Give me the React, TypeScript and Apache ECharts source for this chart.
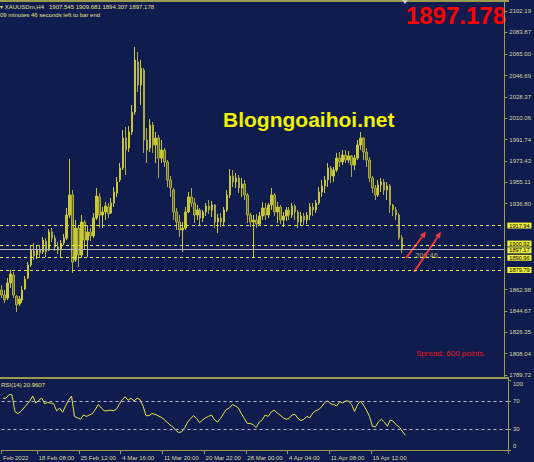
import React, { useEffect, useRef } from "react";
import * as echarts from "echarts";

// ---- Data (XAUUSDm, H4) ----
const opens = [
  1862.6, 1858.3, 1855.7, 1868.6, 1875.5, 1857.4, 1850.6, 1854.0, 1863.5, 1872.9,
  1884.1, 1896.1, 1892.6, 1896.9, 1895.2, 1904.7, 1896.9, 1912.4, 1907.2, 1899.5,
  1896.9, 1903.0, 1907.2, 1927.0, 1944.2, 1888.4, 1915.8, 1892.6, 1921.0, 1905.5,
  1912.4, 1909.0, 1924.4, 1942.5, 1927.0, 1929.6, 1933.9, 1928.7, 1937.3, 1945.9,
  1957.1, 1967.4, 1993.1, 1984.5, 1998.3, 2015.4, 2058.4, 2038.6, 2051.5, 1991.4,
  1984.5, 2004.3, 1987.1, 1993.1, 1975.9, 1982.8, 1972.5, 1957.1, 1948.5, 1929.6,
  1921.0, 1914.1, 1915.8, 1929.6, 1942.5, 1937.3, 1927.0, 1931.3, 1924.4, 1929.6,
  1934.7, 1931.3, 1935.6, 1921.0, 1924.4, 1921.0, 1931.3, 1944.2, 1960.5, 1955.3,
  1958.8, 1950.2, 1953.6, 1944.2, 1927.0, 1921.0, 1922.7, 1919.3, 1926.1, 1933.0,
  1927.0, 1935.6, 1944.2, 1929.6, 1933.9, 1922.7, 1926.1, 1931.3, 1927.0, 1934.7,
  1929.6, 1921.0, 1926.1, 1922.7, 1927.0, 1933.9, 1931.3, 1937.3, 1946.7, 1951.9,
  1957.1, 1967.4, 1960.5, 1965.6, 1975.9, 1972.5, 1978.5, 1974.2, 1977.7, 1969.9,
  1975.9, 1987.1, 1993.1, 1981.1, 1974.2, 1958.8, 1950.2, 1944.2, 1952.8, 1955.3,
  1948.5, 1951.9, 1935.6, 1931.3, 1927.0, 1907.545,
];
const closes = [
  1858.3, 1854.0, 1868.6, 1876.3, 1858.3, 1849.7, 1854.9, 1862.6, 1872.0, 1884.1,
  1896.9, 1891.8, 1896.9, 1894.4, 1905.5, 1895.2, 1912.4, 1907.2, 1899.5, 1896.9,
  1903.0, 1907.2, 1927.0, 1944.2, 1886.6, 1915.8, 1892.6, 1921.0, 1905.5, 1912.4,
  1909.0, 1924.4, 1943.3, 1927.0, 1929.6, 1934.7, 1927.9, 1937.3, 1946.7, 1955.3,
  1967.4, 1993.1, 1982.8, 1998.3, 2015.4, 2060.1, 2038.6, 2053.2, 1991.4, 1982.8,
  2004.3, 1987.1, 1993.1, 1975.9, 1982.8, 1972.5, 1957.1, 1950.2, 1929.6, 1921.0,
  1914.1, 1915.8, 1929.6, 1942.5, 1937.3, 1927.0, 1931.3, 1924.4, 1929.6, 1934.7,
  1931.3, 1935.6, 1921.0, 1924.4, 1921.0, 1931.3, 1944.2, 1960.5, 1955.3, 1958.8,
  1950.2, 1953.6, 1944.2, 1927.0, 1921.0, 1922.7, 1919.3, 1926.1, 1933.0, 1927.0,
  1935.6, 1944.2, 1929.6, 1933.9, 1922.7, 1926.1, 1931.3, 1927.0, 1934.7, 1929.6,
  1921.0, 1926.1, 1922.7, 1927.0, 1933.9, 1931.3, 1937.3, 1946.7, 1951.9, 1957.1,
  1967.4, 1960.5, 1965.6, 1975.9, 1972.5, 1978.5, 1974.2, 1977.7, 1969.9, 1975.9,
  1987.1, 1993.1, 1981.1, 1974.2, 1958.8, 1950.2, 1944.2, 1952.8, 1955.3, 1948.5,
  1951.9, 1935.6, 1931.3, 1927.0, 1907.5, 1897.178,
];
const lows = [
  1855.7, 1851.4, 1854.0, 1864.3, 1855.7, 1843.7, 1848.9, 1851.4, 1862.6, 1872.0,
  1882.3, 1888.4, 1889.2, 1890.1, 1893.5, 1890.9, 1896.1, 1903.8, 1896.1, 1893.5,
  1890.1, 1901.2, 1905.5, 1924.4, 1877.2, 1886.6, 1882.3, 1890.1, 1896.9, 1890.9,
  1904.7, 1907.2, 1922.7, 1915.8, 1915.8, 1922.7, 1924.4, 1927.9, 1933.9, 1942.5,
  1955.3, 1965.6, 1961.3, 1981.1, 1995.7, 2012.9, 2032.6, 2021.5, 1980.2, 1971.7,
  1981.1, 1980.2, 1971.7, 1958.8, 1971.7, 1968.2, 1951.0, 1942.5, 1922.7, 1914.1,
  1908.1, 1895.2, 1914.1, 1928.7, 1933.9, 1920.1, 1922.7, 1918.4, 1921.0, 1926.1,
  1927.9, 1925.3, 1915.8, 1911.5, 1916.7, 1918.4, 1929.6, 1941.6, 1951.0, 1950.2,
  1945.9, 1942.5, 1939.9, 1920.1, 1916.7, 1890.1, 1915.8, 1917.5, 1922.7, 1922.7,
  1924.4, 1931.3, 1926.1, 1920.1, 1919.3, 1916.7, 1921.8, 1922.7, 1924.4, 1922.7,
  1915.8, 1917.5, 1918.4, 1919.3, 1922.7, 1926.1, 1928.7, 1935.6, 1942.5, 1945.9,
  1951.0, 1954.5, 1955.3, 1963.9, 1968.2, 1969.9, 1971.7, 1971.7, 1959.6, 1965.6,
  1974.2, 1982.8, 1974.2, 1968.2, 1955.3, 1945.9, 1939.9, 1942.5, 1946.7, 1944.2,
  1939.9, 1928.7, 1926.1, 1922.7, 1905.5, 1894.307,
];
const highs = [
  1866.9, 1862.6, 1872.9, 1879.8, 1878.1, 1858.3, 1857.4, 1866.0, 1874.6, 1886.6,
  1900.4, 1903.0, 1900.4, 1901.2, 1908.1, 1907.2, 1915.0, 1915.8, 1909.8, 1903.8,
  1905.5, 1910.7, 1933.0, 1975.1, 1948.5, 1922.7, 1917.5, 1927.0, 1922.7, 1918.4,
  1915.8, 1928.7, 1950.2, 1945.9, 1933.9, 1938.2, 1937.3, 1941.6, 1951.0, 1959.6,
  1971.7, 2000.0, 2002.6, 2003.4, 2021.5, 2071.3, 2067.0, 2060.1, 2053.2, 2001.7,
  2009.4, 2006.9, 1998.3, 1995.7, 1991.4, 1984.5, 1974.2, 1960.5, 1950.2, 1933.0,
  1927.0, 1921.0, 1933.9, 1946.7, 1950.2, 1941.6, 1935.6, 1933.0, 1931.3, 1937.3,
  1939.9, 1939.0, 1936.4, 1927.9, 1928.7, 1933.9, 1948.5, 1966.5, 1965.6, 1963.1,
  1961.3, 1958.8, 1957.1, 1945.9, 1928.7, 1927.0, 1927.9, 1929.6, 1938.2, 1937.3,
  1937.3, 1950.2, 1945.9, 1938.2, 1935.6, 1929.6, 1933.9, 1933.9, 1937.3, 1936.4,
  1931.3, 1929.6, 1928.7, 1929.6, 1937.3, 1937.3, 1939.9, 1951.0, 1957.1, 1960.5,
  1971.7, 1969.1, 1968.2, 1980.2, 1981.1, 1982.8, 1982.8, 1982.0, 1978.5, 1978.5,
  1991.4, 1998.3, 1994.0, 1984.5, 1976.8, 1960.5, 1952.8, 1957.1, 1958.8, 1957.9,
  1955.3, 1953.6, 1936.4, 1933.9, 1928.7, 1909.681,
];
const rsi14 = [
  74, 74, 79, 79, 55, 52, 55, 60, 65, 70,
  77, 67, 71, 74, 66, 68, 67, 66, 56, 60,
  54, 63, 71, 77, 48, 46, 44, 50, 48, 50,
  52, 58, 65, 60, 56, 56, 57, 56, 58, 65,
  72, 76, 71, 74, 70, 74, 72, 63, 49, 49,
  52, 51, 49, 47, 44, 40, 36, 33, 28, 25,
  26, 32, 40, 45, 49, 45, 39, 43, 46, 48,
  50, 43, 40, 45, 52, 58, 60, 65, 63, 60,
  52, 45, 38, 38, 36, 32, 40, 43, 50, 48,
  54, 57, 53, 50, 46, 44, 45, 50, 51, 45,
  42, 44, 48, 46, 53, 56, 58, 62, 68, 70,
  66, 65, 63, 69, 67, 70, 70, 65, 55, 65,
  70, 64, 57, 48, 34, 33, 40, 44, 40, 34,
  43, 41, 36, 33, 27, 20.9607,
];
// bar slots on the time axis (includes the empty chart shift on the right)
const SLOT_COUNT = 170;
const timeLabels: Record<number, string> = {
  0: "Feb 2022",
  12: "18 Feb 08:00",
  26: "25 Feb 12:00",
  40: "4 Mar 16:00",
  54: "11 Mar 20:00",
  68: "20 Mar 22:00",
  82: "28 Mar 00:00",
  96: "4 Apr 04:00",
  110: "11 Apr 08:00",
  124: "19 Apr 12:00",
};
const priceTicks = [
  2102.19, 2083.87, 2065.0, 2046.69, 2028.37, 2010.06, 1991.74, 1973.43, 1955.11,
  1936.8, 1862.98, 1844.67, 1826.35, 1808.04, 1789.72,
];
const rsiTicks = [100, 70, 30, 0];
const rsiLevels = [70, 30];
const levelPrices = [1917.94, 1900.92, 1890.96, 1879.79];
const levelLabelShift = [0, -1.8, 0.8, 0];
const bidPrice = 1897.178;
const bidLabel = "1897.17";
const rsiLabel = "RSI(14) 20.9607";
const headerLine1 = "\u25BE XAUUSDm,H4   1907.545 1909.681 1894.307 1897.178";
const headerLine2 = "09 minutes 46 seconds left to bar end";

const BG = "#101c4e";
const OLIVE = "#9c9c4e";
const LABEL = "#d6d6a6";
const FONT = "Liberation Sans, Arial, sans-serif";

export default function App() {
  const ref = useRef<HTMLDivElement>(null);
  useEffect(() => {
    document.body.style.margin = "0";
    const chart = echarts.init(ref.current!, null, { renderer: "svg" });
    const cats = Array.from({ length: SLOT_COUNT }, (_, i) => String(i));
    const candles = opens.map((o, i) => [o, closes[i], lows[i], highs[i]]);
    const showIdx = (i: number) => timeLabels[i] !== undefined;
    const yellowBox = {
      show: true,
      position: "end",
      distance: 3,
      formatter: (p: any) => p.name,
      backgroundColor: "#eeee3a",
      color: "#000",
      fontSize: 5.6,
      lineHeight: 6,
      fontFamily: FONT,
      padding: [0, 2, 0, 2],
    };
    chart.setOption({
      animation: false,
      backgroundColor: BG,
      grid: [
        { left: 0, right: 26, top: 2, height: 375 },
        { left: 0, right: 26, top: 379, height: 72 },
      ],
      xAxis: [
        {
          gridIndex: 0,
          type: "category",
          data: cats,
          boundaryGap: true,
          axisLine: { show: false },
          axisTick: { show: false },
          axisLabel: { show: false },
          splitLine: { show: false },
        },
        {
          gridIndex: 1,
          type: "category",
          data: cats,
          boundaryGap: true,
          axisLine: { show: true, lineStyle: { color: OLIVE, width: 1 } },
          axisTick: {
            show: true,
            interval: (i: number) => showIdx(i),
            length: 4,
            lineStyle: { color: OLIVE },
          },
          axisLabel: {
            interval: (i: number) => showIdx(i),
            formatter: (_v: string, i: number) => timeLabels[i] ?? "",
            align: "left",
            color: LABEL,
            fontSize: 6,
            fontFamily: FONT,
            margin: 4,
          },
          splitLine: { show: false },
        },
      ],
      yAxis: [
        {
          gridIndex: 0,
          type: "value",
          position: "right",
          min: 1787.9,
          max: 2109.9,
          splitLine: { show: false },
          axisLine: { show: true, lineStyle: { color: OLIVE, width: 1 } },
          axisTick: {
            show: true,
            customValues: priceTicks,
            length: 3,
            lineStyle: { color: OLIVE },
          },
          axisLabel: {
            customValues: priceTicks,
            formatter: (v: number) => v.toFixed(2),
            color: LABEL,
            fontSize: 6,
            fontFamily: FONT,
            margin: 5,
          },
        },
        {
          gridIndex: 1,
          type: "value",
          position: "right",
          min: -1.4,
          max: 101.4,
          splitLine: { show: false },
          axisLine: { show: true, lineStyle: { color: OLIVE, width: 1 } },
          axisTick: {
            show: true,
            customValues: rsiTicks,
            length: 3,
            lineStyle: { color: OLIVE },
          },
          axisLabel: {
            customValues: rsiTicks,
            formatter: (v: number) =>
              v === 100 ? "{t|100}" : v === 0 ? "{b|0}" : String(v),
            color: LABEL,
            fontSize: 6,
            fontFamily: FONT,
            margin: 5,
            rich: {
              t: { color: LABEL, fontSize: 6, fontFamily: FONT, padding: [8, 0, 0, 0] },
              b: { color: LABEL, fontSize: 6, fontFamily: FONT, padding: [0, 0, 8, 0] },
            },
          },
        },
      ],
      series: [
        {
          type: "candlestick",
          xAxisIndex: 0,
          yAxisIndex: 0,
          data: candles,
          barWidth: 2,
          itemStyle: {
            color: "#c8c836",
            color0: "#66662a",
            borderColor: "#c8c836",
            borderColor0: "#acac3c",
            borderWidth: 1,
          },
          markLine: {
            silent: true,
            symbol: ["none", "none"],
            animation: false,
            lineStyle: { color: "#e8e84a", type: [3, 3], width: 1 },
            label: yellowBox,
            data: [
              ...levelPrices.map((p, k) => ({
                yAxis: p,
                name: p.toFixed(2),
                label: { ...yellowBox, offset: [0, levelLabelShift[k]] },
              })),
              {
                yAxis: bidPrice,
                name: bidLabel,
                lineStyle: { color: "#b4b4c4", type: "solid", width: 1 },
                label: { ...yellowBox, offset: [0, 0.6] },
              },
            ],
          },
        },
        {
          type: "line",
          xAxisIndex: 1,
          yAxisIndex: 1,
          data: rsi14,
          showSymbol: false,
          lineStyle: { color: "#e4e44a", width: 1 },
          markLine: {
            silent: true,
            symbol: ["none", "none"],
            animation: false,
            label: { show: false },
            lineStyle: { color: "#b8b8cc", type: [3, 3], width: 1 },
            data: rsiLevels.map((v) => ({ yAxis: v })),
          },
        },
      ],
      graphic: [
        { type: "line", shape: { x1: 0, y1: 1, x2: 509, y2: 1 }, style: { stroke: OLIVE, lineWidth: 2 } },
        { type: "line", shape: { x1: 0, y1: 378, x2: 509, y2: 378 }, style: { stroke: OLIVE, lineWidth: 2 } },
        { type: "polygon", shape: { points: [[402, 0], [408, 0], [405, 4]] }, style: { fill: "#c8c8d0" } },
        {
          type: "text", x: 0, y: 6.5,
          style: { text: headerLine1, fill: "#e0e08a", fontSize: 6, fontFamily: FONT, verticalAlign: "middle", align: "left" },
        },
        {
          type: "text", x: 0, y: 15,
          style: { text: headerLine2, fill: "#e0e08a", fontSize: 6, fontFamily: FONT, verticalAlign: "middle", align: "left" },
        },
        {
          type: "text", x: 506, y: 15.5,
          style: { text: "1897.178", fill: "#ff0000", fontSize: 24, fontWeight: "bold", fontFamily: FONT, verticalAlign: "middle", align: "right" },
        },
        {
          type: "text", x: 223, y: 119,
          style: { text: "Blogngoaihoi.net", fill: "#eef200", fontSize: 21, fontWeight: "bold", fontFamily: FONT, verticalAlign: "middle", align: "left" },
        },
        {
          type: "text", x: 416, y: 353,
          style: { text: "Spread: 600 points.", fill: "#e01818", fontSize: 8, fontFamily: FONT, verticalAlign: "middle", align: "left" },
        },
        {
          type: "text", x: 1, y: 385,
          style: { text: rsiLabel, fill: "#e0e08a", fontSize: 6, fontFamily: FONT, verticalAlign: "middle", align: "left" },
        },
        {
          type: "text", x: 415, y: 255,
          style: { text: "208:46", fill: "#b0b062", fontSize: 7.5, fontFamily: FONT, verticalAlign: "middle", align: "left" },
        },
        { type: "line", shape: { x1: 406, y1: 258, x2: 422.5, y2: 236.5 }, style: { stroke: "#e83838", lineWidth: 2 } },
        { type: "polygon", shape: { points: [[426, 231.5], [424.6, 238.4], [419.9, 234.8]] }, style: { fill: "#e83838" } },
        { type: "line", shape: { x1: 414, y1: 272, x2: 437.8, y2: 236.8 }, style: { stroke: "#e83838", lineWidth: 2 } },
        { type: "polygon", shape: { points: [[441, 231.5], [440, 238.6], [435.2, 235.4]] }, style: { fill: "#e83838" } },
      ],
    });
    return () => chart.dispose();
  }, []);
  return (
    <div
      ref={ref}
      style={{ position: "fixed", left: 0, top: 0, width: 534, height: 462 }}
    />
  );
}
